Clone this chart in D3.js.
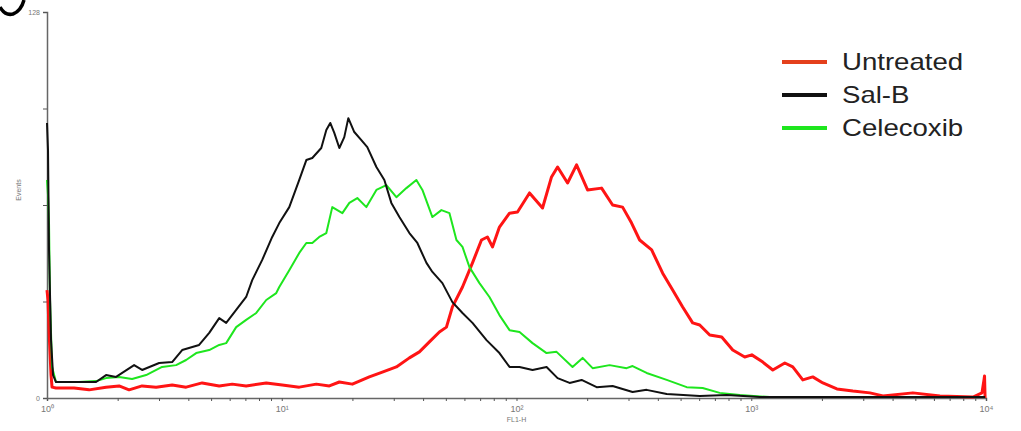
<!DOCTYPE html>
<html>
<head>
<meta charset="utf-8">
<script src="https://d3js.org/d3.v7.min.js"></script>
<style>
  body { margin: 0; background: #fff; }
  svg { font-family: "Liberation Sans", Arial, sans-serif; }
</style>
</head>
<body>
<script>
// channel (0-1023, 4 decades log) and event counts
const untreatedCh = [0, 1.1, 2.2, 4.4, 5.5, 9.8, 29.5, 45.9, 64.4, 78.6, 89.5, 103.7, 119, 136.5, 151.7, 169.2, 187.8, 202, 217.2, 239.1, 256.5, 275.1, 293.7, 307.9, 318.8, 333, 351.5, 365.7, 381, 395.2, 406.1, 417, 427.9, 435.6, 442.1, 453.1, 464, 473.8, 480.3, 485.8, 493.4, 504.4, 513.1, 526.2, 540.4, 550.2, 556.8, 567.7, 577.5, 589.5, 604.8, 616.8, 627.7, 637.5, 646.3, 659.4, 671.4, 682.3, 693.2, 704.1, 711.8, 722.7, 735.8, 747.8, 760.9, 768.6, 780.6, 791.5, 804.6, 813.3, 824.2, 835.1, 846.1, 861.4, 878.8, 897.4, 911.6, 944.3, 973.8, 1009.8, 1019.6, 1021.8, 1022.4, 1023];
const untreated = [35.8, 32.5, 22.5, 7.6, 3.6, 3.3, 3.3, 2.7, 3.6, 4.0, 2.7, 4.0, 3.6, 4.3, 3.6, 5.0, 4.0, 4.6, 4.0, 5.0, 4.3, 3.6, 4.6, 4.0, 5.3, 4.6, 7.0, 8.6, 10.3, 13.3, 15.3, 18.6, 21.9, 23.5, 30.2, 36.8, 44.8, 52.4, 53.4, 50.1, 56.7, 61.3, 61.7, 68.0, 63.0, 73.3, 76.6, 71.3, 77.3, 69.0, 69.6, 64.0, 63.3, 58.0, 52.4, 49.1, 41.4, 35.8, 30.2, 24.9, 24.2, 20.9, 20.2, 15.9, 13.6, 14.3, 11.9, 9.3, 11.6, 10.3, 6.0, 7.0, 5.0, 3.0, 2.3, 1.7, 0.7, 1.7, 0.7, 0.3, 1.7, 6.0, 7.3, 0];

const salBCh = [0, 1.1, 2.2, 4.4, 6.6, 9.8, 29.5, 53.5, 64.4, 75.3, 95, 103.7, 122.3, 136.5, 147.4, 165.9, 176.9, 187.8, 195.4, 206.3, 217.2, 223.8, 234.7, 245.6, 253.3, 264.2, 275.1, 282.8, 289.3, 299.1, 304.6, 308.9, 313.3, 318.8, 324.2, 328.6, 335.1, 342.8, 349.3, 359.2, 367.9, 375.5, 384.3, 395.2, 403.9, 413.8, 420.3, 431.2, 442.1, 453.1, 464, 479.3, 493.4, 504.4, 515.3, 529.5, 544.8, 556.8, 569.9, 583, 599.4, 616.8, 638.6, 653.9, 675.8, 711.8, 741.3, 777.3, 1023];
const salB = [91.2, 82.2, 49.1, 19.2, 7.6, 5.3, 5.3, 5.3, 7.6, 7.0, 10.9, 9.3, 11.6, 11.9, 15.9, 17.6, 21.6, 26.5, 24.9, 29.2, 33.5, 39.1, 45.8, 53.4, 58.0, 63.3, 72.3, 78.9, 79.6, 82.9, 88.9, 91.2, 87.9, 82.9, 86.5, 92.8, 88.2, 85.5, 83.2, 76.6, 72.3, 64.7, 60.0, 54.7, 51.4, 44.8, 41.8, 38.1, 31.8, 28.2, 24.9, 19.2, 14.9, 10.3, 10.3, 9.3, 10.3, 6.6, 5.0, 6.0, 3.6, 4.0, 2.0, 2.7, 1.3, 0.7, 1.0, 0.3, 0.3];

const celecoxibCh = [0, 1.1, 2.2, 3.3, 5.5, 9.8, 34.9, 53.5, 64.4, 78.6, 92.8, 108.1, 125.5, 140.8, 151.7, 162.7, 176.9, 187.8, 195.4, 206.3, 217.2, 228.2, 239.1, 250, 253.3, 264.2, 275.1, 282.8, 289.3, 296.9, 304.6, 311.1, 322.1, 329.7, 338.4, 348.3, 359.2, 370.1, 381, 391.9, 402.8, 409.4, 420.3, 430.1, 438.9, 446.5, 453.1, 460.7, 471.6, 482.5, 493.4, 504.4, 515.3, 529.5, 544.8, 555.7, 573.1, 584.1, 595, 613.5, 632.1, 638.6, 653.9, 675.8, 697.6, 715, 733.6, 755.5, 788.2, 1023];
const celecoxib = [72.3, 67.3, 58.0, 32.5, 10.3, 5.3, 5.3, 5.6, 6.6, 7.0, 6.3, 7.6, 10.3, 10.9, 12.6, 14.9, 15.9, 17.6, 18.2, 23.5, 25.9, 28.2, 32.5, 34.8, 36.8, 42.4, 48.1, 51.4, 51.4, 53.4, 54.7, 63.3, 61.3, 64.7, 66.3, 63.3, 69.0, 70.6, 66.6, 69.6, 72.3, 69.0, 60.0, 62.3, 61.3, 52.4, 50.1, 43.4, 38.1, 33.5, 27.5, 22.5, 21.9, 18.2, 14.9, 15.3, 10.3, 13.3, 9.9, 10.9, 9.9, 10.6, 8.3, 6.0, 3.6, 3.3, 1.7, 1.0, 0.3, 0.3];

const seriesNames = ["Untreated", "Sal-B", "Celecoxib"];
const lineColors = ["#ff1414", "#111111", "#1ee61e"];
const legendColors = ["#e4401c", "#111111", "#1ee61e"];
const lineWidths = [3, 2, 2];
const yTicks = [0, 32, 64, 96, 128];
const yLabels = ["0", "128"];
const decadeLabels = ["10⁰", "10¹", "10²", "10³", "10⁴"];

const width = 1021, height = 431;
const svg = d3.select("body").append("svg")
    .attr("width", width)
    .attr("height", height);

const x = d3.scaleLog().domain([1, 10000]).range([47, 986]);
const y = d3.scaleLinear().domain([0, 128]).range([398, 12]);
const chToVal = ch => Math.pow(10, ch / 256);

// panel letter stroke, cut off at the corner
svg.append("path")
    .attr("d", "M0,7 Q5,16 13,14 Q21,11 24,0")
    .attr("fill", "none")
    .attr("stroke", "#000")
    .attr("stroke-width", 3.5);

// x axis with minor ticks
const xAxis = svg.append("g")
    .attr("transform", "translate(0,398)")
    .call(d3.axisBottom(x)
        .tickValues(x.ticks())
        .tickSize(3)
        .tickFormat(d => {
            const e = Math.log10(d);
            return Math.abs(e - Math.round(e)) < 1e-6 ? decadeLabels[Math.round(e)] : "";
        }));
xAxis.select(".domain").attr("stroke", "#666").attr("stroke-width", 1.5);
xAxis.selectAll(".tick line").attr("stroke", "#555");
xAxis.selectAll(".tick text").attr("fill", "#777").attr("font-size", 9).attr("dy", "0.9em");

svg.append("text")
    .attr("x", x(100)).attr("y", 422)
    .attr("text-anchor", "middle")
    .attr("font-size", 7)
    .attr("fill", "#777")
    .text("FL1-H");

// y axis
const yAxis = svg.append("g")
    .attr("transform", "translate(47,0)")
    .call(d3.axisLeft(y)
        .tickValues(yTicks)
        .tickSize(4)
        .tickFormat(d => yLabels.includes(String(d)) ? d : ""));
yAxis.select(".domain").attr("stroke", "#666").attr("stroke-width", 1.5);
yAxis.selectAll(".tick line").attr("stroke", "#555");
yAxis.selectAll(".tick text").attr("fill", "#777").attr("font-size", 7);

svg.append("text")
    .attr("transform", "translate(21,190) rotate(-90)")
    .attr("text-anchor", "middle")
    .attr("font-size", 7)
    .attr("fill", "#777")
    .text("Events");

// histograms
const line = d3.line()
    .x(d => x(chToVal(d[0])))
    .y(d => y(d[1]))
    .curve(d3.curveLinear);

const seriesData = [
    d3.zip(untreatedCh, untreated),
    d3.zip(salBCh, salB),
    d3.zip(celecoxibCh, celecoxib)
];

// draw order: Untreated, Celecoxib, Sal-B
[0, 2, 1].forEach(i => {
    svg.append("path")
        .datum(seriesData[i])
        .attr("fill", "none")
        .attr("stroke", lineColors[i])
        .attr("stroke-width", lineWidths[i])
        .attr("stroke-linejoin", "round")
        .attr("d", line);
});

// legend
const legend = svg.append("g");
seriesNames.forEach((name, i) => {
    const ly = 62 + i * 33;
    legend.append("line")
        .attr("x1", 782).attr("x2", 827)
        .attr("y1", ly).attr("y2", ly)
        .attr("stroke", legendColors[i])
        .attr("stroke-width", 4);
    legend.append("text")
        .attr("transform", `translate(842,${ly + 8}) scale(1.2,1)`)
        .attr("font-size", 23)
        .attr("fill", "#222")
        .text(name);
});
</script>
</body>
</html>
